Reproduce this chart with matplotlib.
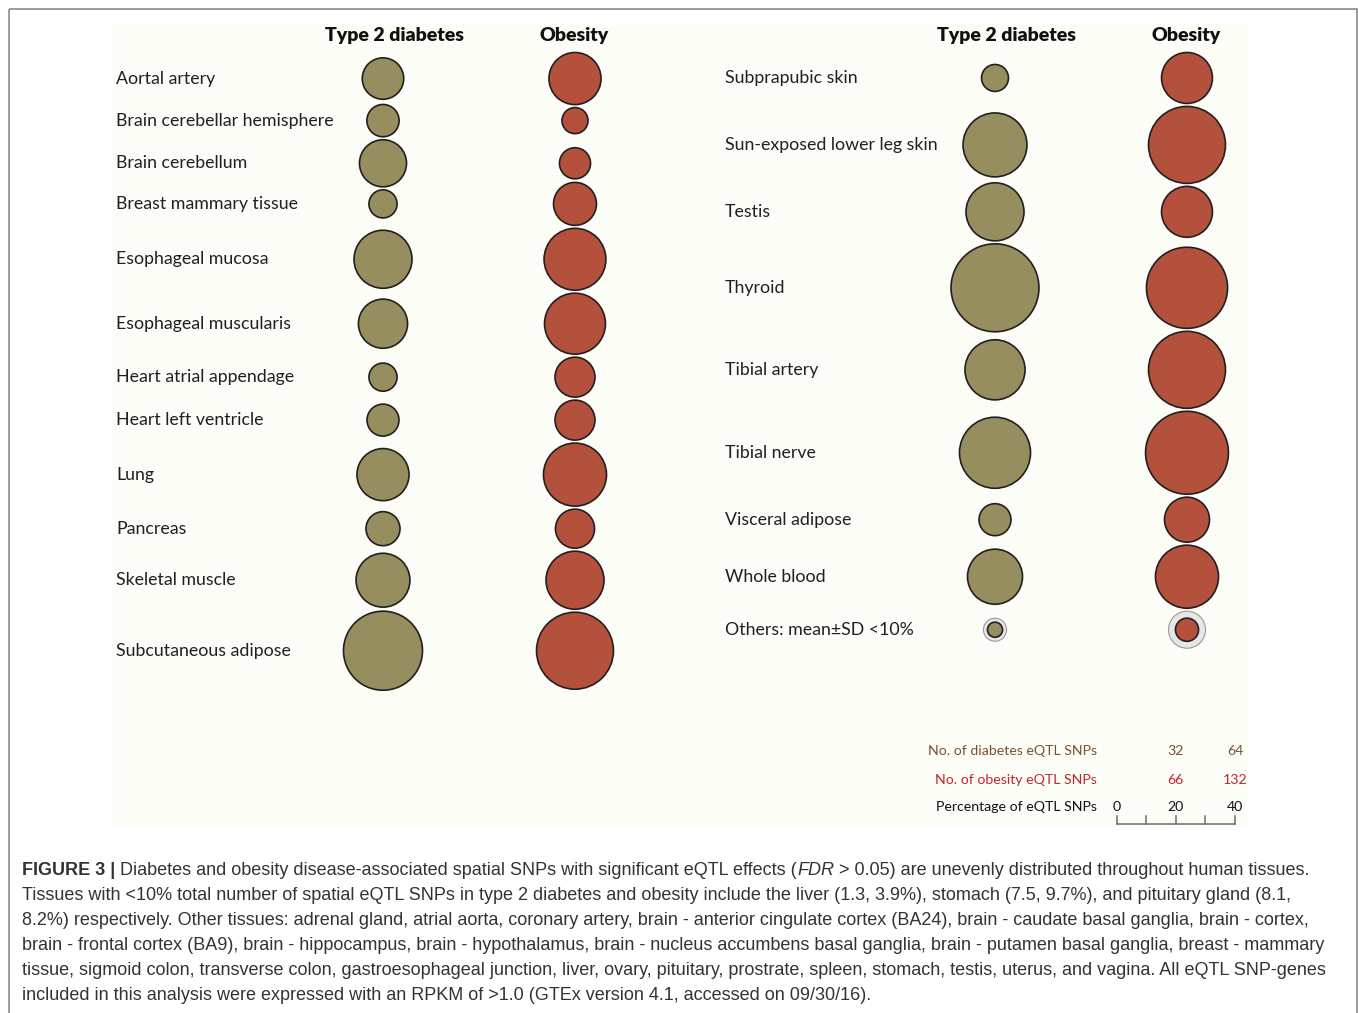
import numpy as np
import matplotlib
matplotlib.use('Agg')
from matplotlib import pyplot as plt
from matplotlib.patches import Circle, Rectangle

# percentage of eQTL SNPs in each tissue (bubble diameter)
left_tissues = ["Aortal artery", "Brain cerebellar hemisphere", "Brain cerebellum",
	"Breast mammary tissue", "Esophageal mucosa", "Esophageal muscularis",
	"Heart atrial appendage", "Heart left ventricle", "Lung", "Pancreas",
	"Skeletal muscle", "Subcutaneous adipose"]
left_t2d = [14.0, 10.9, 15.9, 9.5, 19.6, 16.6, 9.5, 10.8, 17.6, 11.5, 18.2, 26.7]
left_obesity = [17.6, 8.8, 10.5, 14.5, 20.9, 20.6, 13.5, 13.5, 21.3, 13.2, 19.6, 26.0]

right_tissues = ["Subprapubic skin", "Sun-exposed lower leg skin", "Testis", "Thyroid",
	"Tibial artery", "Tibial nerve", "Visceral adipose", "Whole blood"]
right_t2d = [9.1, 21.6, 19.6, 29.7, 20.3, 24.0, 10.8, 18.6]
right_obesity = [17.2, 26.0, 17.2, 27.4, 26.0, 28.0, 15.2, 21.3]

others_label = "Others: mean\u00b1SD <10%"
others_mean = [5.1, 7.8]	# t2d, obesity
others_sd = [2.7, 4.7]

columns = ["Type 2 diabetes", "Obesity"]
total_snps = [160, 330]	# diabetes, obesity
scale_ticks = [0, 20, 40]

caption = [
	"Diabetes and obesity disease-associated spatial SNPs with significant eQTL effects (",
	"Tissues with <10% total number of spatial eQTL SNPs in type 2 diabetes and obesity include the liver (1.3, 3.9%), stomach (7.5, 9.7%), and pituitary gland (8.1,",
	"8.2%) respectively. Other tissues: adrenal gland, atrial aorta, coronary artery, brain - anterior cingulate cortex (BA24), brain - caudate basal ganglia, brain - cortex,",
	"brain - frontal cortex (BA9), brain - hippocampus, brain - hypothalamus, brain - nucleus accumbens basal ganglia, brain - putamen basal ganglia, breast - mammary",
	"tissue, sigmoid colon, transverse colon, gastroesophageal junction, liver, ovary, pituitary, prostrate, spleen, stomach, testis, uterus, and vagina. All eQTL SNP-genes",
	"included in this analysis were expressed with an RPKM of >1.0 (GTEx version 4.1, accessed on 09/30/16).",
]
caption_end = "> 0.05) are unevenly distributed throughout human tissues."

W, H = 1358, 1013
px_per_pct = 2.96
t2d_color = '#968E5E'
ob_color = '#B4513C'
edge = '#231F20'
label_font = 'Lato'
label_size = 12.8

fig = plt.figure(figsize=(W/100, H/100), dpi=100)
ax = fig.add_axes([0, 0, 1, 1])
ax.set_xlim(0, W)
ax.set_ylim(H, 0)
ax.axis('off')
renderer = fig.canvas.get_renderer()

ax.add_patch(Rectangle((8.5, 8.5), W - 10, H + 20, fc='none', ec='#8a8a8a', lw=1.2))
ax.add_patch(Rectangle((113, 23), 1135, 803, fc='#FDFDF7', ec='none'))

def row_positions(radii, top=52.5, pad=3):
	ys = [top + max(radii[0])]
	for i in range(1, len(radii)):
		ys.append(ys[-1] + max(a + b for a, b in zip(radii[i-1], radii[i])) + pad)
	return ys

def draw_panel(labels, t2d, ob, label_x, col_x, extra=None):
	radii = [(a*px_per_pct/2, b*px_per_pct/2) for a, b in zip(t2d, ob)]
	if extra is not None:
		radii.append(tuple((m + s)*px_per_pct/2 for m, s in zip(*extra)))
	ys = row_positions(radii)
	for i, lab in enumerate(labels):
		ax.text(label_x, ys[i], lab, fontsize=label_size, family=label_font, color=edge, va='center', ha='left')
	for i in range(len(t2d)):
		ax.add_patch(Circle((col_x[0], ys[i]), radii[i][0], fc=t2d_color, ec=edge, lw=1.2))
		ax.add_patch(Circle((col_x[1], ys[i]), radii[i][1], fc=ob_color, ec=edge, lw=1.2))
	if extra is not None:
		y = ys[-1]
		ax.text(label_x, y, others_label, fontsize=label_size, family=label_font, color=edge, va='center', ha='left')
		for c, m, s, fc in zip(col_x, extra[0], extra[1], [t2d_color, ob_color]):
			ax.add_patch(Circle((c, y), (m + s)*px_per_pct/2, fc='#E6E6E6', ec='#9a9a9a', lw=0.8))
			ax.add_patch(Circle((c, y), m*px_per_pct/2, fc=fc, ec=edge, lw=1.2))
	ax.text(col_x[0] + 11, 35, columns[0], fontsize=14, family=label_font, weight='heavy', color='#111111', ha='center', va='center')
	ax.text(col_x[1] - 1, 35, columns[1], fontsize=14, family=label_font, weight='heavy', color='#111111', ha='center', va='center')

draw_panel(left_tissues, left_t2d, left_obesity, 116, [383, 575])
draw_panel(right_tissues, right_t2d, right_obesity, 725, [995, 1187], extra=(others_mean, others_sd))

# size scale
x0, ybar = 1116.5, 824
xs = [x0 + v*px_per_pct for v in range(0, 41, 10)]
ax.plot([xs[0], xs[-1]], [ybar, ybar], color='#6d6d6d', lw=1.1)
for x in xs:
	ax.plot([x, x], [ybar, ybar - 8], color='#6d6d6d', lw=1.1)
small = 10.2
ax.text(1097, 807, "Percentage of eQTL SNPs", fontsize=small, family=label_font, color='#111111', ha='right', va='center')
ax.text(1097, 751, "No. of diabetes eQTL SNPs", fontsize=small, family=label_font, color='#7A5230', ha='right', va='center')
ax.text(1097, 780, "No. of obesity eQTL SNPs", fontsize=small, family=label_font, color='#C1272D', ha='right', va='center')
for v in scale_ticks:
	x = x0 + v*px_per_pct
	ax.text(x, 807, str(v), fontsize=small, family=label_font, color='#111111', ha='center', va='center')
	if v > 0:
		ax.text(x, 751, str(int(round(v*total_snps[0]/100))), fontsize=small, family=label_font, color='#7A5230', ha='center', va='center')
		ax.text(x, 780, str(int(round(v*total_snps[1]/100))), fontsize=small, family=label_font, color='#C1272D', ha='center', va='center')

# caption
cap_font = 'Liberation Sans'
probe = ax.text(0, 0, caption[3], fontsize=10, family=cap_font)
cap_size = 10 * (1331 - 22) / probe.get_window_extent(renderer).width
probe.remove()
cap_color = '#333333'

def width(t):
	return t.get_window_extent(renderer).width

sp = ax.text(0, 0, "a a", fontsize=cap_size, family=cap_font)
nsp = ax.text(0, 0, "aa", fontsize=cap_size, family=cap_font)
space = width(sp) - width(nsp)
sp.remove()
nsp.remove()

y = 870
x = 22
t = ax.text(x, y, "FIGURE 3 |", fontsize=cap_size, family=cap_font, weight='bold', color=cap_color, va='center')
x += width(t) + space
t = ax.text(x, y, caption[0], fontsize=cap_size, family=cap_font, color=cap_color, va='center')
x += width(t)
t = ax.text(x, y, "FDR", fontsize=cap_size, family=cap_font, style='italic', color=cap_color, va='center')
x += width(t) + space
ax.text(x, y, caption_end, fontsize=cap_size, family=cap_font, color=cap_color, va='center')
for i, line in enumerate(caption[1:]):
	ax.text(22, y + 25*(i + 1), line, fontsize=cap_size, family=cap_font, color=cap_color, va='center')

plt.savefig("out.png", dpi=100)
